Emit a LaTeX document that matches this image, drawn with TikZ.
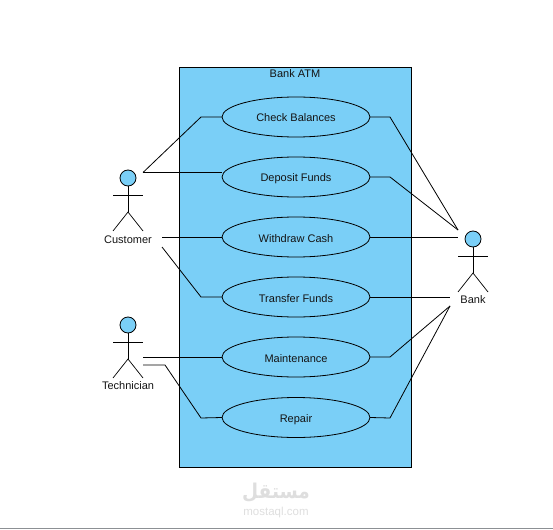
\documentclass[tikz,border=0pt]{standalone}
\usepackage{fontspec}
\setmainfont{Liberation Sans}
\newfontfamily\arabicfont[Script=Arabic]{DejaVu Sans}
\TeXXeTstate=1
\usepackage{tikz}
\usetikzlibrary{positioning, shapes.geometric}
\definecolor{skyfill}{RGB}{122,207,247}
\definecolor{inkdark}{RGB}{20,20,20}
\definecolor{markgray}{RGB}{222,222,222}
\definecolor{edgegray}{RGB}{140,144,148}
\tikzset{
  usecase/.style={
    draw=black, ellipse, fill=skyfill, text=inkdark, line width=0.8pt,
    minimum width=148pt, minimum height=40pt, inner sep=0pt, outer sep=0pt,
    text height=10pt, text depth=0pt, font=\fontsize{11}{13}\selectfont
  },
  system/.style={
    draw=black, fill=skyfill, line width=0.8pt, minimum width=232pt,
    minimum height=400pt, inner sep=0pt, outer sep=0pt
  },
  head/.style={
    draw=black, circle, fill=skyfill, line width=0.8pt, minimum size=16pt,
    inner sep=0pt, outer sep=0pt
  },
  caption/.style={text=inkdark, inner sep=0pt, font=\fontsize{11}{13}\selectfont},
  link/.style={line width=0.8pt, black},
  stick/.style={line width=0.7pt, black},
  actor/.pic={
    \node[head] (-head) at (0,0) {};
    \coordinate (-hip) at (0,34);
    \draw[stick] (-head.south) -- (-hip);
    \draw[stick] (-15,17) -- (15,17);
    \draw[stick] (-15,53) -- (-hip) -- (15,53);
  }
}

\begin{document}
\begin{tikzpicture}[x=1pt, y=-1pt, node distance=20pt]
  \useasboundingbox (0,0) rectangle (553,529);
  \node[system] (atm) at (295.3,267) {};
  \node[caption] (atmtitle) at (295,74) {Bank ATM};

  \node[usecase] (check) at (296,117) {Check Balances};
  \node[usecase, below=of check] (deposit) {Deposit Funds};
  \node[usecase, below=of deposit] (withdraw) {Withdraw Cash};
  \node[usecase, below=of withdraw] (transfer) {Transfer Funds};
  \node[usecase, below=of transfer] (maint) {Maintenance};
  \node[usecase, below=20.5pt of maint] (repair) {Repair};

  \pic (customer) at (128,178) {actor};
  \pic (tech) at (128,325) {actor};
  \pic (bank) at (473,239) {actor};
  \node[caption] (customerlabel) at (128,239.5) {Customer};
  \node[caption] (techlabel) at (128,385.5) {Technician};
  \node[caption] (banklabel) at (473,299.5) {Bank};

  % free ends next to the actors
  \coordinate (custA) at (143,172.5);
  \coordinate (custB) at (162,237);
  \coordinate (custC) at (162,247);
  \coordinate (techA) at (143,357);
  \coordinate (techB) at (143,365);
  \coordinate (bankA) at (458,230);
  \coordinate (bankB) at (458,237);
  \coordinate (bankC) at (450,297);
  \coordinate (bankD) at (450,306);

  \draw[link] (custA) -- (201,117) -- (check.west);
  \draw[link] (custA) -- (deposit.west |- custA);
  \draw[link] (custB) -- (withdraw.west);
  \draw[link] (custC) -- (201,297) -- (transfer.west);
  \draw[link] (techA) -- (maint.west);
  \draw[link] (techB) -- (165,365) -- (201,418) -- (repair.west);

  \draw[link] (check.east) -- (390,117) -- (bankA);
  \draw[link] (deposit.east) -- (390,177) -- (bankA);
  \draw[link] (withdraw.east) -- (bankB);
  \draw[link] (transfer.east) -- (bankC);
  \draw[link] (maint.east) -- (390,357) -- (bankD);
  \draw[link] (repair.east) -- (390,418) -- (bankD);

  % site mark at the foot
  \node[text=markgray, inner sep=0pt, yscale=1.1, font=\fontsize{18.5}{22}\selectfont\bfseries] (markar) at (276,493) {\arabicfont\beginR مستقل\endR};
  \node[text=markgray, inner sep=0pt, font=\fontsize{11.5}{13}\selectfont] (markla) at (276,513) {mostaql.com};
  \coordinate (footL) at (0,528.5);
  \coordinate (footR) at (553,528.5);
  \draw[edgegray, line width=1pt] (footL) -- (footR);
\end{tikzpicture}
\end{document}
